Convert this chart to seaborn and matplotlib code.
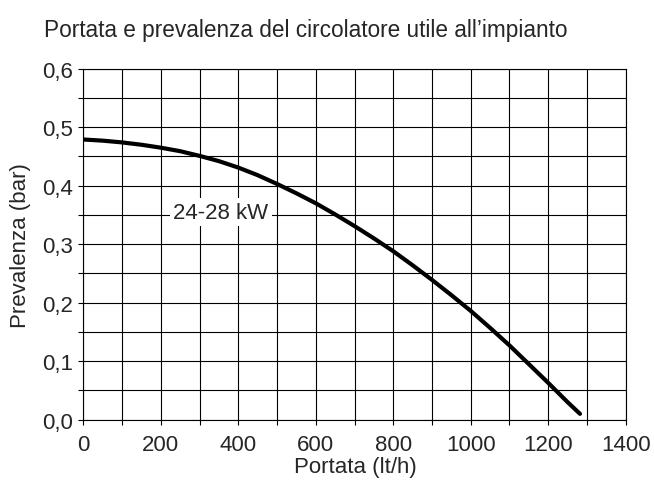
import matplotlib
matplotlib.use("Agg")
import matplotlib.pyplot as plt
import seaborn as sns
import pandas as pd
import numpy as np

# Data
portata = [0, 50, 100, 150, 200, 250, 300, 350, 400, 450, 500, 550, 600, 650,
           700, 750, 800, 850, 900, 950, 1000, 1050, 1100, 1150, 1200, 1250, 1282]
prevalenza = [0.479, 0.477, 0.474, 0.470, 0.465, 0.459, 0.451, 0.442, 0.431, 0.418,
              0.403, 0.387, 0.370, 0.351, 0.331, 0.310, 0.288, 0.264, 0.239, 0.213,
              0.186, 0.157, 0.127, 0.095, 0.063, 0.030, 0.010]
x_ticks = [0, 200, 400, 600, 800, 1000, 1200, 1400]
x_ticklabels = ["0", "200", "400", "600", "800", "1000", "1200", "1400"]
y_ticks = [0.0, 0.1, 0.2, 0.3, 0.4, 0.5, 0.6]
y_ticklabels = ["0,0", "0,1", "0,2", "0,3", "0,4", "0,5", "0,6"]
series_label = "24-28 kW"
title = "Portata e prevalenza del circolatore utile all\u2019impianto"

sns.set_style("ticks")
plt.rcParams['font.family'] = ['Liberation Sans', 'DejaVu Sans']

TXT = "#262626"
FS = 16

df = pd.DataFrame({"Portata": portata, "Prevalenza": prevalenza})

fig = plt.figure(figsize=(6.54, 4.81), dpi=100)
L, R, T, B = 83.3, 625.7, 69.7, 420.7
ax = fig.add_axes([L/654, 1-B/481, (R-L)/654, (B-T)/481])

# grid
for xv in np.arange(0, 1401, 100):
    ax.axvline(xv, color="black", lw=0.8, zorder=1)
for yv in np.arange(0, 0.601, 0.05):
    ax.axhline(yv, color="black", lw=0.8, zorder=1)

sns.lineplot(data=df, x="Portata", y="Prevalenza", ax=ax, color="black",
             lw=3.0, zorder=3, solid_capstyle="round", solid_joinstyle="round")

ax.set_xlim(0, 1400)
ax.set_ylim(0, 0.6)
ax.set_xticks(x_ticks)
ax.set_xticklabels(x_ticklabels)
ax.set_xticks(np.arange(100, 1400, 200), minor=True)
ax.set_yticks(y_ticks)
ax.set_yticklabels(y_ticklabels)
ax.set_yticks(np.arange(0.05, 0.6, 0.1), minor=True)
ax.tick_params(axis="both", which="both", direction="out", length=3.5, width=0.8,
               color="black", labelsize=FS, labelcolor=TXT)
ax.tick_params(axis="x", pad=7)
ax.tick_params(axis="y", pad=4)
for s in ax.spines.values():
    s.set_linewidth(0.8)
    s.set_color("black")

ax.set_xlabel("Portata (lt/h)", fontsize=FS, color=TXT)
ax.set_ylabel("Prevalenza (bar)", fontsize=FS, color=TXT)
ax.xaxis.set_label_coords((355-L)/(R-L), (B-457)/(B-T))
ax.yaxis.set_label_coords((31-L)/(R-L), 0.5)

ax.text(355, 0.355, series_label, fontsize=FS, color=TXT, ha="center", va="center",
        zorder=4, bbox=dict(facecolor="white", edgecolor="none", pad=2.5))

fig.text(44/654, 1-31/481, title, fontsize=16.3, color=TXT, ha="left", va="center")

fig.savefig("out.png", dpi=100)
